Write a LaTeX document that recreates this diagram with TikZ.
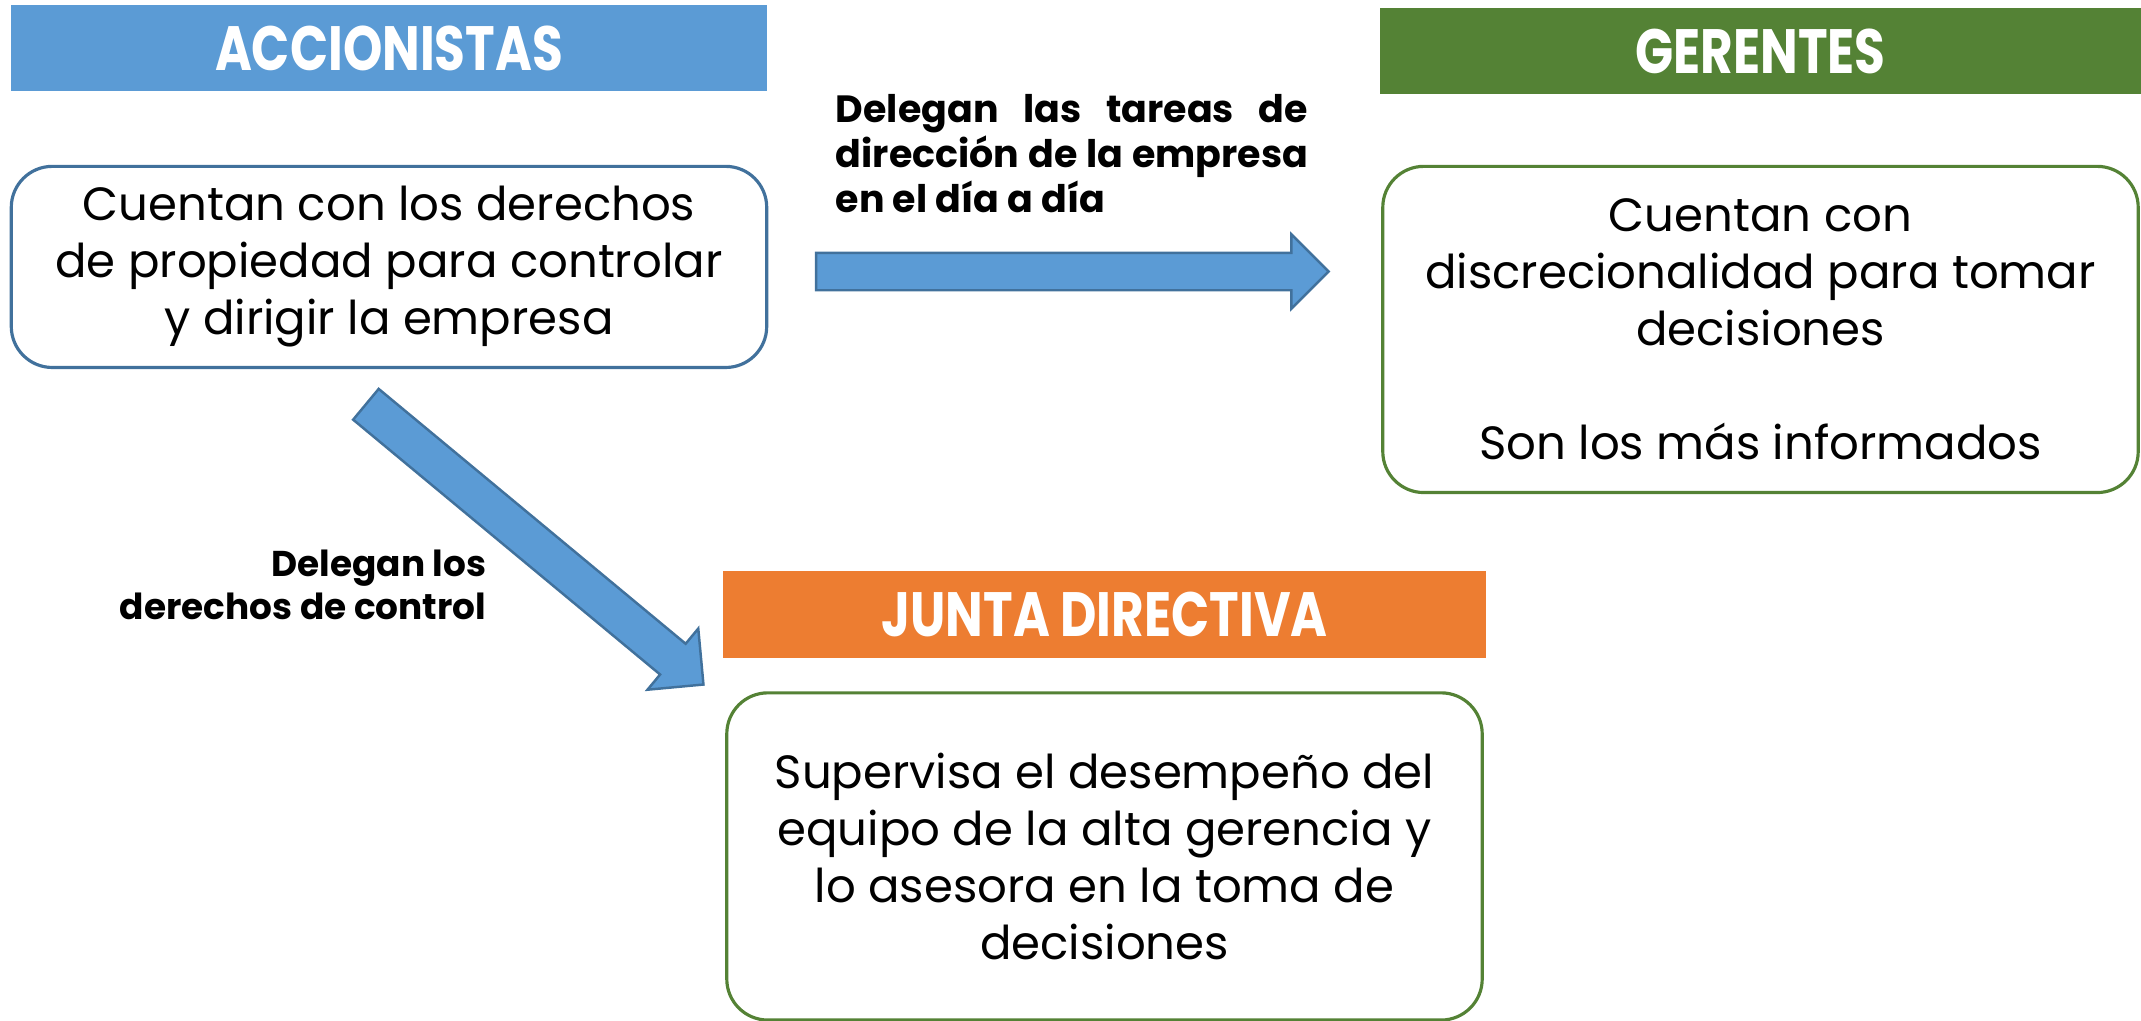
\documentclass[tikz,border=0pt]{standalone}
\usepackage{graphicx}
\usepackage{fontspec}
\setmainfont{Poppins}
\usetikzlibrary{positioning, shapes.arrows}
\definecolor{accblue}{HTML}{5B9BD5}
\definecolor{accline}{HTML}{41719C}
\definecolor{gergreen}{HTML}{548235}
\definecolor{juntaorange}{HTML}{ED7D31}
\tikzset{
  titlebar/.style={fill=#1, text=white, inner sep=0pt, minimum height=0.86cm,
    font=\bfseries\fontsize{17.8}{21}\selectfont},
  infobox/.style={draw=#1, line width=0.9pt, rounded corners=0.41cm, fill=white,
    align=center, inner sep=0pt, minimum width=7.55cm,
    font=\fontsize{13.25}{16.2}\selectfont},
  blockarrow/.style={single arrow, fill=accblue, draw=accline, line width=0.7pt,
    single arrow tip angle=90, inner xsep=0pt},
  delegtext/.style={inner sep=0pt, font=\bfseries\fontsize{10.8}{12.8}\selectfont}
}

\begin{document}
\begin{tikzpicture}[x=0.01cm, y=-0.01cm]
  \useasboundingbox (0,0) rectangle (2141,1020);

  % title bars
  \node[titlebar=accblue, minimum width=7.56cm] (accTitle) at (389,48) {\scalebox{0.8}[1]{ACCIONISTAS}};
  \node[titlebar=gergreen, minimum width=7.61cm] (gerTitle) at (1760.5,51) {\scalebox{0.8}[1]{GERENTES}};
  \node[titlebar=juntaorange, minimum width=7.63cm] (juntaTitle) at (1104.5,614.5) {\scalebox{0.8}[1]{JUNTA DIRECTIVA}};

  % boxes
  \node[infobox=accline, minimum height=2.01cm, below=0.73cm of accTitle] (accBox)
    {Cuentan con los derechos\\de propiedad para controlar\\y dirigir la empresa};
  \node[infobox=gergreen, minimum height=3.26cm, below=0.70cm of gerTitle] (gerBox)
    {Cuentan con\\discrecionalidad para tomar\\decisiones\\[16.2pt]Son los más informados};
  \node[infobox=gergreen, minimum height=3.27cm, below=0.33cm of juntaTitle] (juntaBox)
    {Supervisa el desempeño del\\equipo de la alta gerencia y\\lo asesora en la toma de\\decisiones};

  % arrows
  \node[blockarrow, minimum height=5.12cm, inner ysep=0.175cm,
    single arrow head extend=0.185cm] (arrGer) at (1063,271.5) {};
  \node[blockarrow, minimum height=4.385cm, inner ysep=0.1875cm,
    single arrow head extend=0.1975cm, rotate=-39.7] (arrJunta) at (527,538) {};

  % labels
  \node[delegtext, text width=4.72cm, align=justify] (lblGer) at (1072,154)
    {Delegan las tareas de\linebreak dirección de la empresa\linebreak en el día a día};
  \node[delegtext, align=right, anchor=east, font=\bfseries\fontsize{10.2}{12.1}\selectfont]
    (lblJunta) at (487,585) {Delegan los\\derechos de control};
\end{tikzpicture}
\end{document}
